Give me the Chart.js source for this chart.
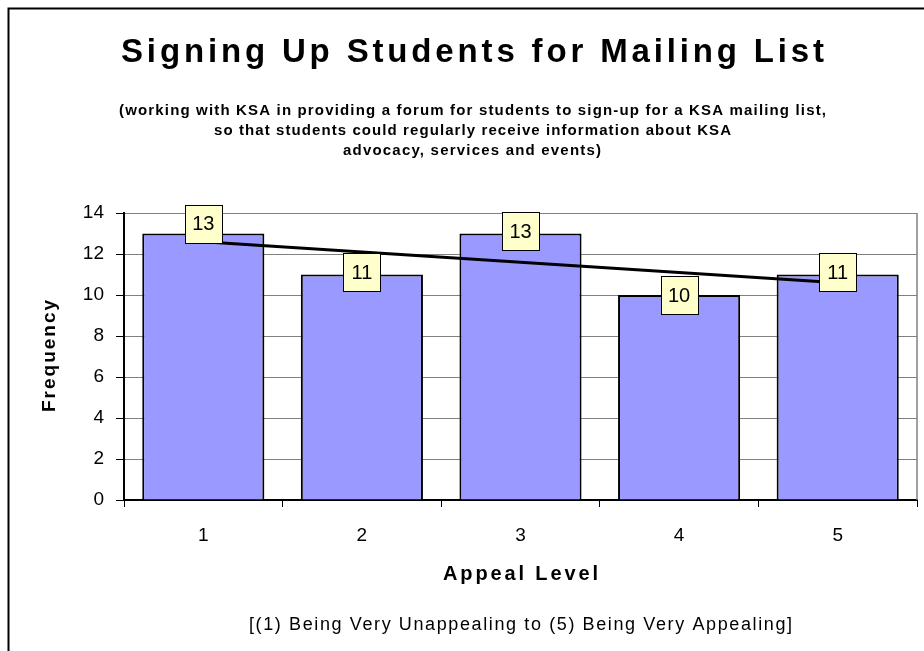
<!DOCTYPE html>
<html>
<head>
<meta charset="utf-8">
<script src="https://cdn.jsdelivr.net/npm/chart.js@4"></script>
<style>
html,body{margin:0;padding:0;background:#fff;}
canvas{display:block;}
</style>
</head>
<body>
<canvas id="c" width="924" height="651"></canvas>
<script>
const categories = ['1', '2', '3', '4', '5'];
const frequencies = [13, 11, 13, 10, 11];
const trendValues = [12.6, null, null, null, 10.6];
const yMin = 0, yMax = 14, yStep = 2;
const titleText = 'Signing Up Students for Mailing List';
const subtitleLines = [
  '(working with KSA in providing a forum for students to sign-up for a KSA mailing list,',
  'so that students could regularly receive information about KSA',
  'advocacy, services and events)'
];
const yTitle = 'Frequency';
const xTitle = 'Appeal Level';
const footnote = '[(1) Being Very Unappealing to (5) Being Very Appealing]';

const FONT = '"Liberation Sans", Arial, sans-serif';

function spaced(ctx, text, cx, y, target) {
  ctx.save();
  if ('letterSpacing' in ctx) ctx.letterSpacing = '0px';
  const w0 = ctx.measureText(text).width;
  const n = text.length;
  let ls = target ? (target - w0) / (n - 1) : 0;
  if (!('letterSpacing' in ctx)) ls = 0;
  if ('letterSpacing' in ctx) ctx.letterSpacing = ls + 'px';
  ctx.textAlign = 'left';
  ctx.fillText(text, cx - (w0 + ls * (n - 1)) / 2, y);
  ctx.restore();
}

const decor = {
  id: 'decor',
  afterDraw(chart) {
    const ctx = chart.ctx;
    const a = chart.chartArea;
    ctx.save();
    ctx.strokeStyle = '#808080';
    ctx.lineWidth = 1.5;
    ctx.beginPath();
    ctx.moveTo(a.right, a.top);
    ctx.lineTo(a.right, a.bottom);
    ctx.stroke();
    ctx.strokeStyle = '#000';
    ctx.lineWidth = 2;
    ctx.strokeRect(8.5, 8.5, 1000, 1000);
    ctx.fillStyle = '#000';
    ctx.textBaseline = 'alphabetic';
    ctx.font = 'bold 33px ' + FONT;
    spaced(ctx, titleText, 472.5, 62, 703);
    ctx.font = 'bold 15px ' + FONT;
    spaced(ctx, subtitleLines[0], 472.5, 115, 707);
    spaced(ctx, subtitleLines[1], 472.5, 135, 517);
    spaced(ctx, subtitleLines[2], 472, 155, 258);
    ctx.font = 'bold 20px ' + FONT;
    spaced(ctx, xTitle, 520.5, 580, 155);
    ctx.font = '18px ' + FONT;
    spaced(ctx, footnote, 520.5, 630, 543);
    ctx.save();
    ctx.translate(55, 356);
    ctx.rotate(-Math.PI / 2);
    ctx.font = 'bold 19px ' + FONT;
    spaced(ctx, yTitle, 0, 0, 112);
    ctx.restore();
    ctx.restore();
  },
  afterDatasetsDraw(chart) {
    const ctx = chart.ctx;
    const meta = chart.getDatasetMeta(0);
    const lift = [10, 2.5, 2.5, 0, 2.5];
    ctx.save();
    ctx.font = '20px ' + FONT;
    ctx.textAlign = 'center';
    ctx.textBaseline = 'middle';
    meta.data.forEach((bar, i) => {
      const txt = String(frequencies[i]);
      const w = 37;
      const h = 38;
      const cx = bar.x, cy = bar.y - lift[i];
      const x0 = Math.round(cx - w / 2) + 0.5, y0 = Math.round(cy - h / 2) + 0.5;
      ctx.fillStyle = '#FFFFCC';
      ctx.fillRect(x0, y0, w, h);
      ctx.strokeStyle = '#000';
      ctx.lineWidth = 1;
      ctx.strokeRect(x0, y0, w, h);
      ctx.fillStyle = '#000';
      ctx.fillText(txt, cx, cy + 1);
    });
    ctx.restore();
  }
};

new Chart(document.getElementById('c'), {
  data: {
    labels: categories,
    datasets: [
      {
        type: 'bar',
        data: frequencies,
        backgroundColor: '#9999FF',
        borderColor: '#000000',
        borderWidth: 2,
        barPercentage: 0.77,
        categoryPercentage: 1,
        order: 2
      },
      {
        type: 'line',
        data: trendValues,
        spanGaps: true,
        borderColor: '#000000',
        borderWidth: 3,
        pointRadius: 0,
        fill: false,
        order: 1
      }
    ]
  },
  plugins: [decor],
  options: {
    responsive: false,
    maintainAspectRatio: false,
    animation: false,
    layout: { padding: { left: 0, right: 7, top: 213, bottom: 0 } },
    plugins: { legend: { display: false }, tooltip: { enabled: false }, title: { display: false } },
    scales: {
      x: {
        afterFit(s) { s.height = 151; },
        offset: true,
        grid: { display: true, drawOnChartArea: false, offset: true, tickLength: 7, tickColor: '#000', color: '#000' },
        border: { display: true, color: '#000', width: 2 },
        ticks: { color: '#000', font: { family: FONT, size: 19 }, padding: 17 }
      },
      y: {
        afterFit(s) { s.width = 124; },
        min: yMin, max: yMax,
        grid: { color: '#808080', lineWidth: 1, tickLength: 8, tickColor: '#000' },
        border: { display: true, color: '#000', width: 2 },
        ticks: { stepSize: yStep, color: '#000', font: { family: FONT, size: 19 }, padding: 12 }
      }
    }
  }
});
</script>
</body>
</html>
